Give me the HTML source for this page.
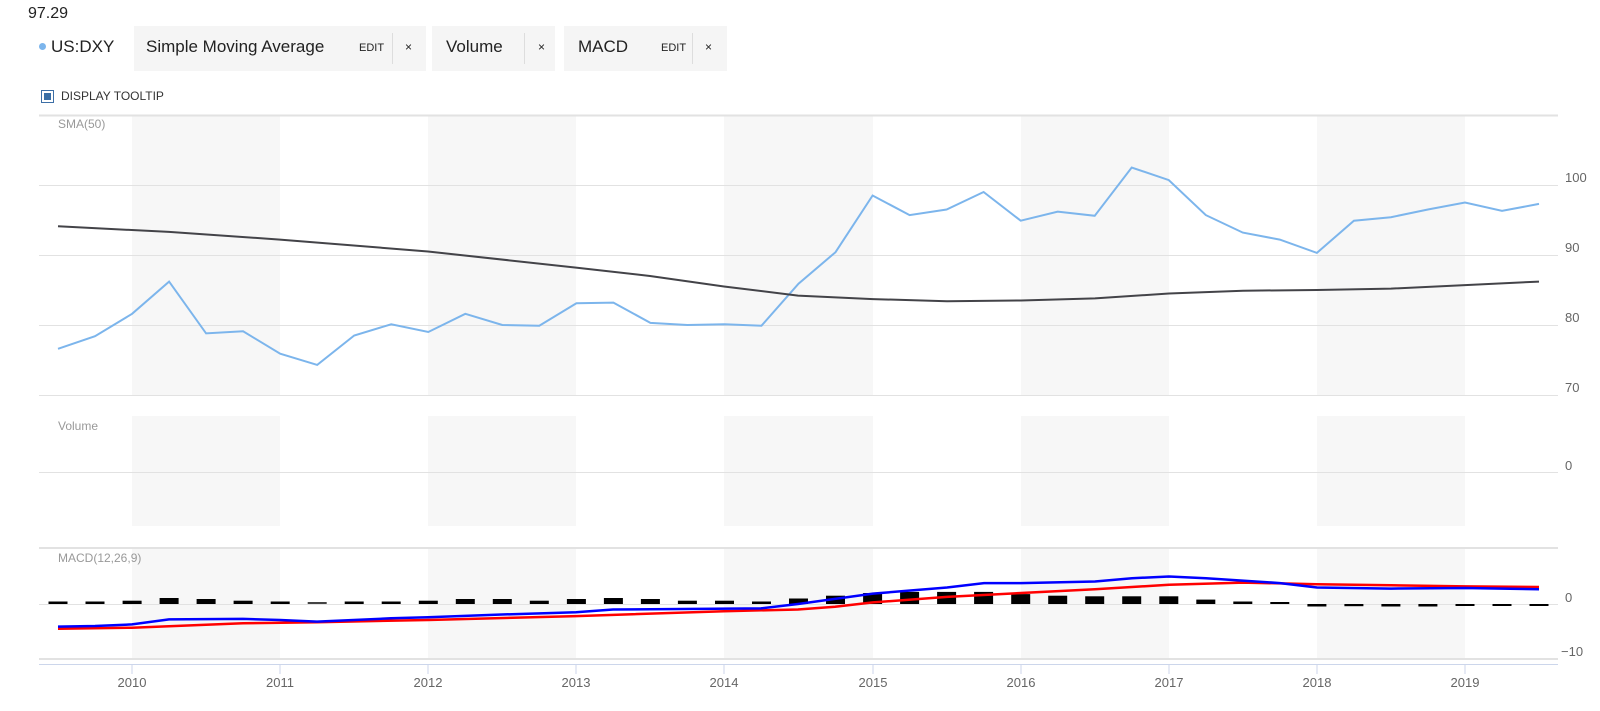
<!DOCTYPE html>
<html><head><meta charset="utf-8"><style>
html,body{margin:0;padding:0;background:#fff;width:1600px;height:711px;overflow:hidden;font-family:"Liberation Sans",sans-serif;}
.t{position:absolute;color:#222;white-space:nowrap}
.tab{position:absolute;top:26px;height:45px;background:#f5f5f5}
.div{position:absolute;top:33px;width:1px;height:31px;background:#ddd}
</style></head><body>
<div class="t" style="left:28px;top:5px;font-size:16px">97.29</div>
<div style="position:absolute;left:39px;top:43px;width:7px;height:7px;border-radius:50%;background:#7cb5ec"></div>
<div class="t" style="left:51px;top:37px;font-size:17px">US:DXY</div>
<div class="tab" style="left:134px;width:292px"></div>
<div class="t" style="left:146px;top:37px;font-size:17px">Simple Moving Average</div>
<div class="t" style="left:359px;top:42px;font-size:11px">EDIT</div>
<div class="div" style="left:392px"></div>
<div class="t" style="left:405px;top:40px;font-size:12px">×</div>
<div class="tab" style="left:432px;width:123px"></div>
<div class="t" style="left:446px;top:37px;font-size:17px">Volume</div>
<div class="div" style="left:524px"></div>
<div class="t" style="left:538px;top:40px;font-size:12px">×</div>
<div class="tab" style="left:564px;width:163px"></div>
<div class="t" style="left:578px;top:37px;font-size:17px">MACD</div>
<div class="t" style="left:661px;top:42px;font-size:11px">EDIT</div>
<div class="div" style="left:692px"></div>
<div class="t" style="left:705px;top:40px;font-size:12px">×</div>
<div style="position:absolute;left:41px;top:90px;width:13px;height:13px;border:1px solid #3d6fa6;box-sizing:border-box;background:#fff"></div>
<div style="position:absolute;left:44px;top:93px;width:7px;height:7px;background:#3a6ea5"></div>
<div class="t" style="left:61px;top:89px;font-size:12px;color:#333">DISPLAY TOOLTIP</div>
<svg width="1600" height="711" style="position:absolute;left:0;top:0" xmlns="http://www.w3.org/2000/svg">
<g fill="#f7f7f7">
<rect x="132" y="115" width="148" height="280"/><rect x="428" y="115" width="148" height="280"/><rect x="724" y="115" width="149" height="280"/><rect x="1021" y="115" width="148" height="280"/><rect x="1317" y="115" width="148" height="280"/>
<rect x="132" y="416" width="148" height="110"/><rect x="428" y="416" width="148" height="110"/><rect x="724" y="416" width="149" height="110"/><rect x="1021" y="416" width="148" height="110"/><rect x="1317" y="416" width="148" height="110"/>
<rect x="132" y="548" width="148" height="111"/><rect x="428" y="548" width="148" height="111"/><rect x="724" y="548" width="149" height="111"/><rect x="1021" y="548" width="148" height="111"/><rect x="1317" y="548" width="148" height="111"/>
</g>
<g stroke="#e2e2e2" stroke-width="1">
<line x1="39" x2="1558" y1="115.5" y2="115.5" stroke-width="2"/>
<line x1="39" x2="1558" y1="185.5" y2="185.5"/><line x1="39" x2="1558" y1="255.5" y2="255.5"/><line x1="39" x2="1558" y1="325.5" y2="325.5"/><line x1="39" x2="1558" y1="395.5" y2="395.5"/>
<line x1="39" x2="1558" y1="472.5" y2="472.5"/>
<line x1="39" x2="1558" y1="548" y2="548" stroke-width="2"/>
<line x1="39" x2="1558" y1="604.5" y2="604.5"/>
<line x1="39" x2="1558" y1="659" y2="659" stroke-width="2"/>
</g>
<line x1="39" x2="1558" y1="664.5" y2="664.5" stroke="#ccd6eb"/>
<g stroke="#ccd6eb"><line x1="132" x2="132" y1="664" y2="674"/><line x1="280" x2="280" y1="664" y2="674"/><line x1="428" x2="428" y1="664" y2="674"/><line x1="576" x2="576" y1="664" y2="674"/><line x1="724" x2="724" y1="664" y2="674"/><line x1="873" x2="873" y1="664" y2="674"/><line x1="1021" x2="1021" y1="664" y2="674"/><line x1="1169" x2="1169" y1="664" y2="674"/><line x1="1317" x2="1317" y1="664" y2="674"/><line x1="1465" x2="1465" y1="664" y2="674"/></g>
<g font-family="Liberation Sans,sans-serif" font-size="13" fill="#666" text-anchor="middle">
<text x="132" y="687">2010</text><text x="280" y="687">2011</text><text x="428" y="687">2012</text><text x="576" y="687">2013</text><text x="724" y="687">2014</text><text x="873" y="687">2015</text><text x="1021" y="687">2016</text><text x="1169" y="687">2017</text><text x="1317" y="687">2018</text><text x="1465" y="687">2019</text>
</g>
<g font-family="Liberation Sans,sans-serif" font-size="13" fill="#666">
<text x="1565" y="182">100</text><text x="1565" y="252">90</text><text x="1565" y="322">80</text><text x="1565" y="392">70</text>
<text x="1565" y="470">0</text><text x="1565" y="602">0</text><text x="1561" y="656">−10</text>
</g>
<g font-family="Liberation Sans,sans-serif" font-size="12" fill="#999">
<text x="58" y="128">SMA(50)</text><text x="58" y="430">Volume</text><text x="58" y="562">MACD(12,26,9)</text>
</g>
<polyline fill="none" stroke="#7cb5ec" stroke-width="2" points="58,348.8 95,336.2 132.1,313.8 169.1,281.6 206.1,333.4 243.1,331.3 280.2,353.7 317.2,364.9 354.2,335.5 391.2,324.3 428.3,332 465.3,313.8 502.3,325 539.3,325.7 576.4,303.3 613.4,302.6 650.4,322.9 687.4,325 724.5,324.3 761.5,325.7 798.5,283.7 835.5,252.2 872.6,195.5 909.6,215.1 946.6,209.5 983.6,192 1020.7,220.7 1057.7,211.6 1094.7,215.8 1131.7,167.5 1168.8,180.1 1205.8,215.1 1242.8,232.6 1279.8,239.6 1316.9,252.9 1353.9,220.7 1390.9,217.2 1427.9,209.5 1465,202.5 1502,210.9 1539,203.9"/>
<polyline fill="none" stroke="#434348" stroke-width="2" points="58,226.3 169,231.9 280,239.6 428,251.5 576,267.6 650,276 724,286.5 798,295.6 873,299.1 947,301.2 1021,300.5 1095,298.4 1169,293.5 1243,290.7 1317,290 1391,288.6 1465,285.1 1539,281.6"/>
<g fill="#000">
<rect x="48.5" y="601.5" width="19" height="2.5"/><rect x="85.5" y="601.5" width="19" height="2.5"/><rect x="122.6" y="600.7" width="19" height="3.3"/><rect x="159.6" y="598" width="19" height="6"/><rect x="196.6" y="599" width="19" height="5"/><rect x="233.6" y="600.7" width="19" height="3.3"/><rect x="270.7" y="601.5" width="19" height="2.5"/><rect x="307.7" y="602" width="19" height="2" fill="#444"/><rect x="344.7" y="601.5" width="19" height="2.5"/><rect x="381.7" y="601.5" width="19" height="2.5"/><rect x="418.8" y="600.7" width="19" height="3.3"/><rect x="455.8" y="599" width="19" height="5"/><rect x="492.8" y="599" width="19" height="5"/><rect x="529.8" y="600.7" width="19" height="3.3"/><rect x="566.9" y="599" width="19" height="5"/><rect x="603.9" y="598" width="19" height="6"/><rect x="640.9" y="599" width="19" height="5"/><rect x="677.9" y="600.7" width="19" height="3.3"/><rect x="715" y="600.7" width="19" height="3.3"/><rect x="752" y="601.5" width="19" height="2.5"/><rect x="789" y="598.5" width="19" height="5.5"/><rect x="826" y="595.7" width="19" height="8.3"/><rect x="863.1" y="593" width="19" height="11"/><rect x="900.1" y="591.9" width="19" height="12.1"/><rect x="937.1" y="591.9" width="19" height="12.1"/><rect x="974.1" y="591.9" width="19" height="12.1"/><rect x="1011.2" y="594.1" width="19" height="9.9"/><rect x="1048.2" y="595.7" width="19" height="8.3"/><rect x="1085.2" y="596.3" width="19" height="7.7"/><rect x="1122.2" y="596.3" width="19" height="7.7"/><rect x="1159.3" y="596.3" width="19" height="7.7"/><rect x="1196.3" y="599.6" width="19" height="4.4"/><rect x="1233.3" y="601.5" width="19" height="2.5"/><rect x="1270.3" y="602" width="19" height="2"/><rect x="1307.4" y="604" width="19" height="2.5"/><rect x="1344.4" y="604" width="19" height="2.2"/><rect x="1381.4" y="604" width="19" height="2.5"/><rect x="1418.4" y="604" width="19" height="2.5"/><rect x="1455.5" y="604" width="19" height="2"/><rect x="1492.5" y="604" width="19" height="2"/><rect x="1529.5" y="604" width="19" height="2"/>
</g>
<polyline fill="none" stroke="#ff0000" stroke-width="2.5" points="58,628.8 132,627.7 243,623.3 317,622.2 428,620 576,616.1 724,611.2 798,609.5 835,606.8 873,602.4 947,596.9 1021,593 1095,589.2 1169,584.8 1243,582.6 1317,584.2 1391,585.3 1465,586.4 1539,587"/>
<polyline fill="none" stroke="#0000ff" stroke-width="2.5" points="58,626.6 95,626 132,624.4 169,619.4 243,618.9 280,620 317,621.6 391,618.3 428,617.2 502,614.5 576,612.3 613,609.5 761,608.4 798,604 873,593.6 947,587.5 984,583.1 1021,583.1 1095,581.5 1132,578.2 1169,576.5 1206,578.2 1280,583.1 1317,587.5 1391,588.6 1465,588 1539,589.2"/>
</svg>
</body></html>
